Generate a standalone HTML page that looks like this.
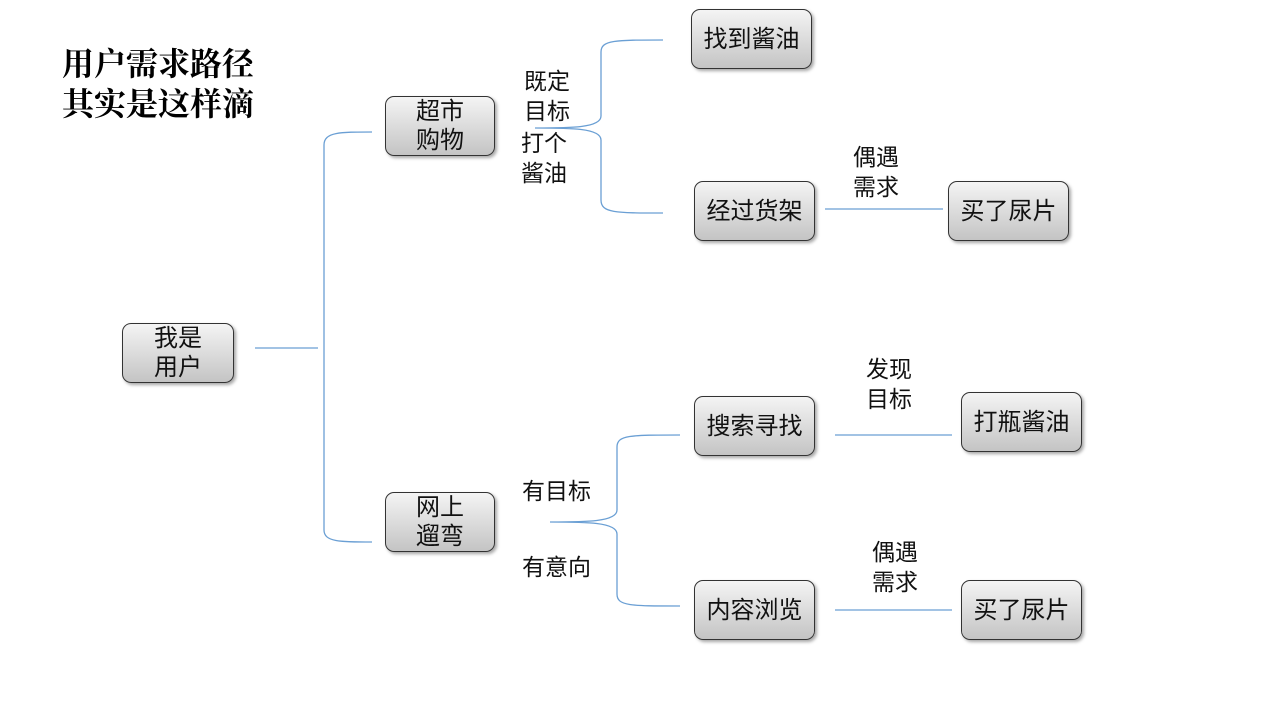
<!DOCTYPE html>
<html><head><meta charset="utf-8"><style>
body{margin:0;width:1280px;height:720px;background:#fff;position:relative;overflow:hidden;font-family:"Liberation Sans","Noto Sans CJK SC",sans-serif;}
.n{position:absolute;box-sizing:border-box;border:1.5px solid #333;border-radius:9px;background:linear-gradient(#f4f4f4,#c4c4c4);box-shadow:2px 2px 3px rgba(0,0,0,.35);display:flex;align-items:center;justify-content:center;text-align:center;font-size:24px;line-height:29px;color:#111;}
.t{position:absolute;font-size:23px;line-height:30px;color:#111;}
.title{position:absolute;left:62px;top:42px;font-family:"Noto Serif CJK SC",serif;font-weight:bold;font-size:32px;line-height:40px;}
svg{position:absolute;left:0;top:0}
</style></head><body>
<svg width="1280" height="720"><g fill="none" stroke="#6a9fd4" stroke-width="1.3">
<path d="M255 348H318"/>
<path d="M372 132C340 132 324 132 324 145V530C324 542 340 542 372 542"/>
<path d="M663 40C615 40 601 40 601 52V116C601 128 570 128 535 128C570 128 601 128 601 140V200C601 213 615 213 663 213"/>
<path d="M680 435C630 435 617 435 617 447V510C617 522 585 522 550 522C585 522 617 522 617 534V594C617 606 630 606 680 606"/>
<path d="M825 209H943M835 435H952M835 610H952"/>
</g></svg>
<div class="title">用户需求路径<br>其实是这样滴</div>
<div class="n" style="left:122px;top:323px;width:112px;height:60px">我是<br>用户</div>
<div class="n" style="left:385px;top:96px;width:110px;height:60px">超市<br>购物</div>
<div class="n" style="left:385px;top:492px;width:110px;height:60px">网上<br>遛弯</div>
<div class="n" style="left:691px;top:9px;width:121px;height:60px">找到酱油</div>
<div class="n" style="left:694px;top:181px;width:121px;height:60px">经过货架</div>
<div class="n" style="left:948px;top:181px;width:121px;height:60px">买了尿片</div>
<div class="n" style="left:694px;top:396px;width:121px;height:60px">搜索寻找</div>
<div class="n" style="left:961px;top:392px;width:121px;height:60px">打瓶酱油</div>
<div class="n" style="left:694px;top:580px;width:121px;height:60px">内容浏览</div>
<div class="n" style="left:961px;top:580px;width:121px;height:60px">买了尿片</div>
<div class="t" style="left:524px;top:66px">既定<br>目标</div>
<div class="t" style="left:521px;top:128px">打个<br>酱油</div>
<div class="t" style="left:853px;top:142px">偶遇<br>需求</div>
<div class="t" style="left:866px;top:354px">发现<br>目标</div>
<div class="t" style="left:872px;top:537px">偶遇<br>需求</div>
<div class="t" style="left:522px;top:476px">有目标</div>
<div class="t" style="left:522px;top:552px">有意向</div>
</body></html>
